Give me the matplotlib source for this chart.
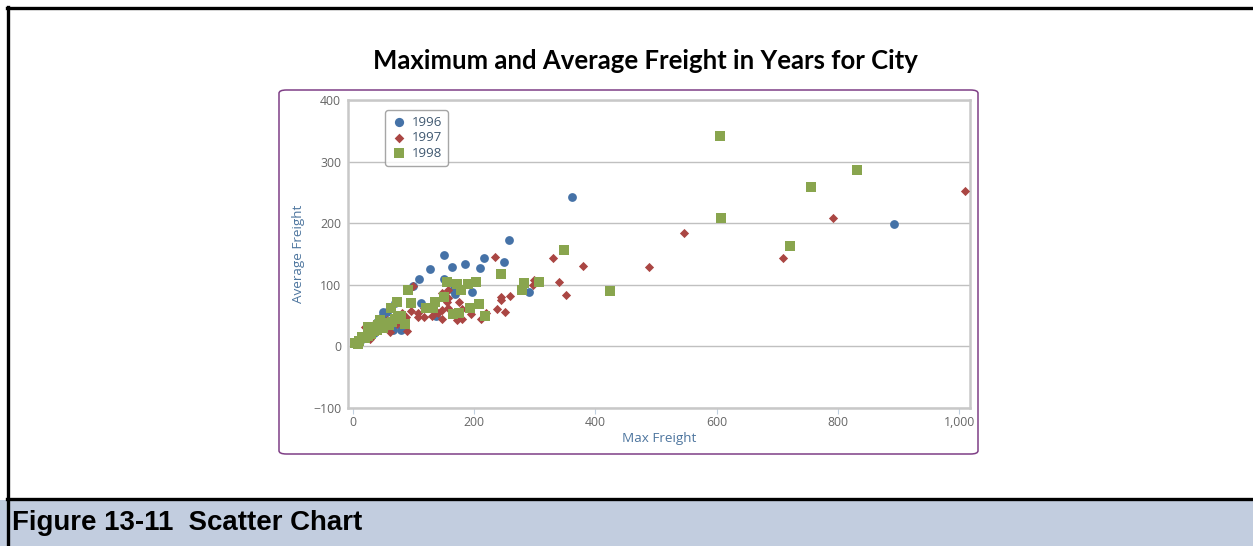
import matplotlib
matplotlib.use("Agg")
import matplotlib.pyplot as plt
from matplotlib.patches import FancyBboxPatch, Rectangle
from matplotlib.lines import Line2D

# Freight per city: maximum freight vs. average freight, by order year
max_1996 = [361, 258, 150, 216, 250, 127, 164, 185, 210, 109, 151, 112, 196, 290, 166,
            169, 138, 79, 892, 99, 70, 64, 56, 48, 40, 29, 18, 6, 67, 45, 35, 25, 12,
            52, 50, 30]
avg_1996 = [243, 172, 149, 144, 137, 126, 129, 134, 128, 109, 110, 71, 88, 89, 91,
            85, 50, 26, 199, 98, 70, 64, 56, 48, 40, 27, 13, 5, 27, 30, 22, 18, 8,
            35, 56, 20]

max_1997 = [234, 330, 380, 341, 352, 299, 297, 259, 245, 244, 238, 251, 99, 147, 158,
            157, 176, 181, 172, 180, 147, 148, 158, 195, 209, 212, 220, 107, 117, 108,
            96, 90, 88, 81, 62, 28, 20, 35, 56, 73, 117, 546, 489, 710, 792, 1010,
            130, 140, 155, 155]
avg_1997 = [145, 143, 131, 105, 83, 107, 100, 82, 80, 75, 60, 56, 98, 87, 91,
            78, 72, 61, 43, 44, 44, 59, 62, 52, 70, 45, 55, 48, 48, 55,
            58, 25, 47, 55, 23, 12, 31, 36, 43, 37, 63, 184, 129, 144, 209, 253,
            50, 55, 72, 80]

max_1998 = [349, 244, 282, 307, 280, 425, 155, 172, 190, 203, 178, 151, 135, 121, 133,
            209, 193, 165, 176, 219, 92, 97, 73, 63, 86, 75, 45, 26, 15, 4, 605, 608,
            755, 832, 721, 35, 55, 50, 40, 20, 10, 60, 70, 80, 30, 8, 25, 65, 42]
avg_1998 = [157, 118, 103, 104, 91, 90, 105, 101, 101, 104, 91, 81, 72, 62, 62,
            69, 63, 52, 54, 49, 92, 71, 72, 63, 37, 48, 43, 31, 16, 5, 341, 208,
            258, 287, 163, 25, 38, 30, 26, 14, 8, 35, 45, 50, 20, 4, 17, 40, 34]

years = ["1996", "1997", "1998"]
x_ticks = [0, 200, 400, 600, 800, 1000]
x_tick_labels = ["0", "200", "400", "600", "800", "1,000"]
y_ticks = [-100, 0, 100, 200, 300, 400]

title = "Maximum and Average Freight in Years for City"
caption = "Figure 13-11  Scatter Chart"

W, H = 1253, 546
fig = plt.figure(figsize=(W / 100, H / 100), dpi=100)


def fx(px):
    return px / W


def fy(py):
    return 1 - py / H


# page frame and caption band
fig.patches.append(Rectangle((fx(0), 0), 1, fy(500), transform=fig.transFigure,
                             facecolor="#c2cddf", edgecolor="none", zorder=0))
fig.add_artist(Line2D([fx(8), fx(8)], [fy(7), 0], color="black", lw=2.4,
                      transform=fig.transFigure))
fig.add_artist(Line2D([fx(7), 1], [fy(7.5), fy(7.5)], color="black", lw=2.4,
                      transform=fig.transFigure))
fig.add_artist(Line2D([fx(7), 1], [fy(499), fy(499)], color="black", lw=2.4,
                      transform=fig.transFigure))
fig.text(fx(12), fy(523), caption, fontsize=19.9, fontweight="bold",
         family="Liberation Sans", color="black", va="center", ha="left")

# chart container with rounded purple border
fig.patches.append(FancyBboxPatch((fx(279), fy(454)), fx(699), 364 / H,
                                  boxstyle="round,pad=0,rounding_size=0.006",
                                  transform=fig.transFigure, facecolor="white",
                                  edgecolor="#7f3f86", lw=1.1, zorder=1))
fig.text(fx(645), fy(61), title, fontsize=18.5, fontweight="bold", family="Lato",
         ha="center", va="center", color="black")

ax = fig.add_axes([fx(348), fy(408), fx(622), 308 / H])
ax.set_zorder(2)
ax.set_facecolor("white")

ax.scatter(max_1996, avg_1996, marker="o", s=40, color="#4572A7", label=years[0],
           zorder=3, linewidths=0)
ax.scatter(max_1997, avg_1997, marker="D", s=22, color="#AA4643", label=years[1],
           zorder=3, linewidths=0)
ax.scatter(max_1998, avg_1998, marker="s", s=44, color="#89A54E", label=years[2],
           zorder=3, linewidths=0)

ax.set_xlim(-7.7, 1018)
ax.set_ylim(-100, 400)
ax.set_xticks(x_ticks)
ax.set_xticklabels(x_tick_labels)
ax.set_yticks(y_ticks)
ax.grid(axis="y", color="#c0c0c0", lw=1)
ax.set_axisbelow(True)
for side in ["left", "right", "top", "bottom"]:
    ax.spines[side].set_color("#c8c8c8")
    ax.spines[side].set_linewidth(1.8)
ax.tick_params(axis="y", length=0, pad=5, labelsize=8.8, labelcolor="#666666")
ax.tick_params(axis="x", length=4, width=0.8, color="#c0d0e0", pad=2, labelsize=8.8,
               labelcolor="#666666")
for lbl in ax.get_xticklabels() + ax.get_yticklabels():
    lbl.set_family("Open Sans")
ax.set_xlabel("Max Freight", fontsize=9.7, color="#4d759e", family="Open Sans",
              labelpad=2)
ax.set_ylabel("Average Freight", fontsize=9.7, color="#4d759e", family="Open Sans",
              labelpad=6)

leg = ax.legend(loc="upper left", bbox_to_anchor=(fx(385), fy(110)),
                bbox_transform=fig.transFigure, borderaxespad=0, frameon=True,
                fancybox=True, fontsize=9.5, labelspacing=0.18, handletextpad=0.35,
                borderpad=0.45, handlelength=1.2, markerscale=1.05)
leg.get_frame().set_edgecolor("#909090")
leg.get_frame().set_linewidth(1.0)
for t in leg.get_texts():
    t.set_color("#3E576F")
    t.set_family("Open Sans")

fig.savefig("out.png", dpi=100)
